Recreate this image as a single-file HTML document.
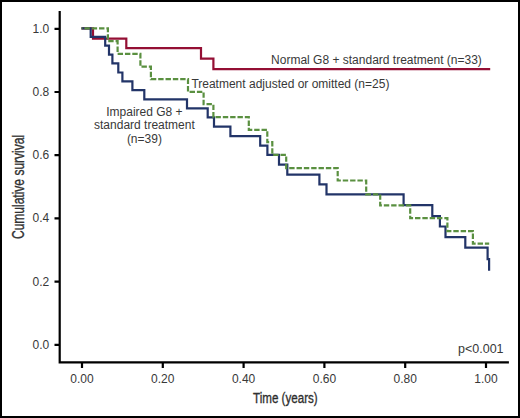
<!DOCTYPE html>
<html>
<head>
<meta charset="utf-8">
<style>
html,body{margin:0;padding:0;background:#fff;}
body{width:520px;height:418px;overflow:hidden;position:relative;}
svg{position:absolute;left:0;top:0;display:block;}
text{font-family:"Liberation Sans",sans-serif;fill:#383838;}
</style>
</head>
<body>
<svg width="520" height="418" viewBox="0 0 520 418" xmlns="http://www.w3.org/2000/svg">
  <rect x="0" y="0" width="520" height="418" fill="#fff"/>
  <rect x="1" y="1" width="518" height="416" fill="none" stroke="#000" stroke-width="2"/>

  <!-- axes -->
  <g stroke="#000" stroke-width="2.2" fill="none">
    <path d="M59.7 11 V362.4 H508.9"/>
    <!-- y ticks -->
    <path d="M54.5 28.8 H59.7 M54.5 92 H59.7 M54.5 155.2 H59.7 M54.5 218.4 H59.7 M54.5 281.6 H59.7 M54.5 344.8 H59.7"/>
    <!-- x ticks -->
    <path d="M82 362.4 V368 M162.8 362.4 V368 M243.6 362.4 V368 M324.4 362.4 V368 M405.2 362.4 V368 M486 362.4 V368"/>
  </g>

  <!-- y labels -->
  <g font-size="12" text-anchor="end">
    <text x="49.2" y="32.8">1.0</text>
    <text x="49.2" y="96">0.8</text>
    <text x="49.2" y="159.2">0.6</text>
    <text x="49.2" y="222.4">0.4</text>
    <text x="49.2" y="285.6">0.2</text>
    <text x="49.2" y="348.8">0.0</text>
  </g>
  <!-- x labels -->
  <g font-size="12" text-anchor="middle">
    <text x="82" y="383">0.00</text>
    <text x="162.8" y="383">0.20</text>
    <text x="243.6" y="383">0.40</text>
    <text x="324.4" y="383">0.60</text>
    <text x="405.2" y="383">0.80</text>
    <text x="486" y="383">1.00</text>
  </g>

  <!-- axis titles -->
  <text x="0" y="0" font-size="14.8" fill="#1e1e1e" stroke="#1e1e1e" stroke-width="0.35" transform="translate(253.0 402.8) scale(0.785 1)">Time (years)</text>
  <text font-size="15.8" fill="#1e1e1e" stroke="#1e1e1e" stroke-width="0.35" transform="translate(23.9 239) rotate(-90) scale(0.761 1)">Cumulative survival</text>

  <!-- curves -->
  <g fill="none" stroke-width="2.2" stroke-linejoin="miter" stroke-linecap="butt">
    <path stroke="#940f34" d="M81.5 28.4 H93 V38.6 H126.3 V48.2 H201 V58.6 H213.4 V69.2 H490.2"/>
    <path stroke="#223468" d="M81.5 28.4 H90.7 V36.9 H105.2 V45.6 H109 V54.6 H112.4 V63.4 H118.3 V72.5 H122.4 V81.4 H132.4 V90.1 H144.3 V99.4 H187 V108.3 H207.7 V117.3 H214 V126.6 H230.4 V136.1 H260.2 V145.7 H267.4 V154.8 H279 V164.6 H287.3 V174.7 H319.4 V184.4 H326.5 V194.4 H403.6 V205.1 H432.3 V216.1 H439.9 V226.5 H445.5 V237.2 H465.3 V247.6 H487.6 V259.2 H489.1 V270.8"/>
    <path stroke="#5a9040" stroke-dasharray="5.4 1.93" stroke-dashoffset="4.44" d="M81.5 28.4 H107.9 V41.2 H117.6 V53.8 H140.4 V66.6 H150.9 V79.2 H188 V91.8 H203.6 V104.2 H213.4 V117.2 H248.8 V129.8 H267.3 V142.2 H272.3 V154.8 H286.2 V168.1 H337.7 V180.5 H366.2 V194.3 H380.2 V205.4 H410.2 V218.2 H447.4 V231.2 H472.9 V243.6 H489.2"/>
  </g>

  <!-- curve labels -->
  <g font-size="12">
    <text x="271.1" y="64">Normal G8 + standard treatment (n=33)</text>
    <text x="191.4" y="88.1">Treatment adjusted or omitted (n=25)</text>
    <text x="144.4" y="115.5" text-anchor="middle">Impaired G8 +</text>
    <text x="144.4" y="129.3" text-anchor="middle">standard treatment</text>
    <text x="144.4" y="143" text-anchor="middle">(n=39)</text>
    <text x="458" y="352.9" font-size="12.5">p&lt;0.001</text>
  </g>
</svg>
</body>
</html>
